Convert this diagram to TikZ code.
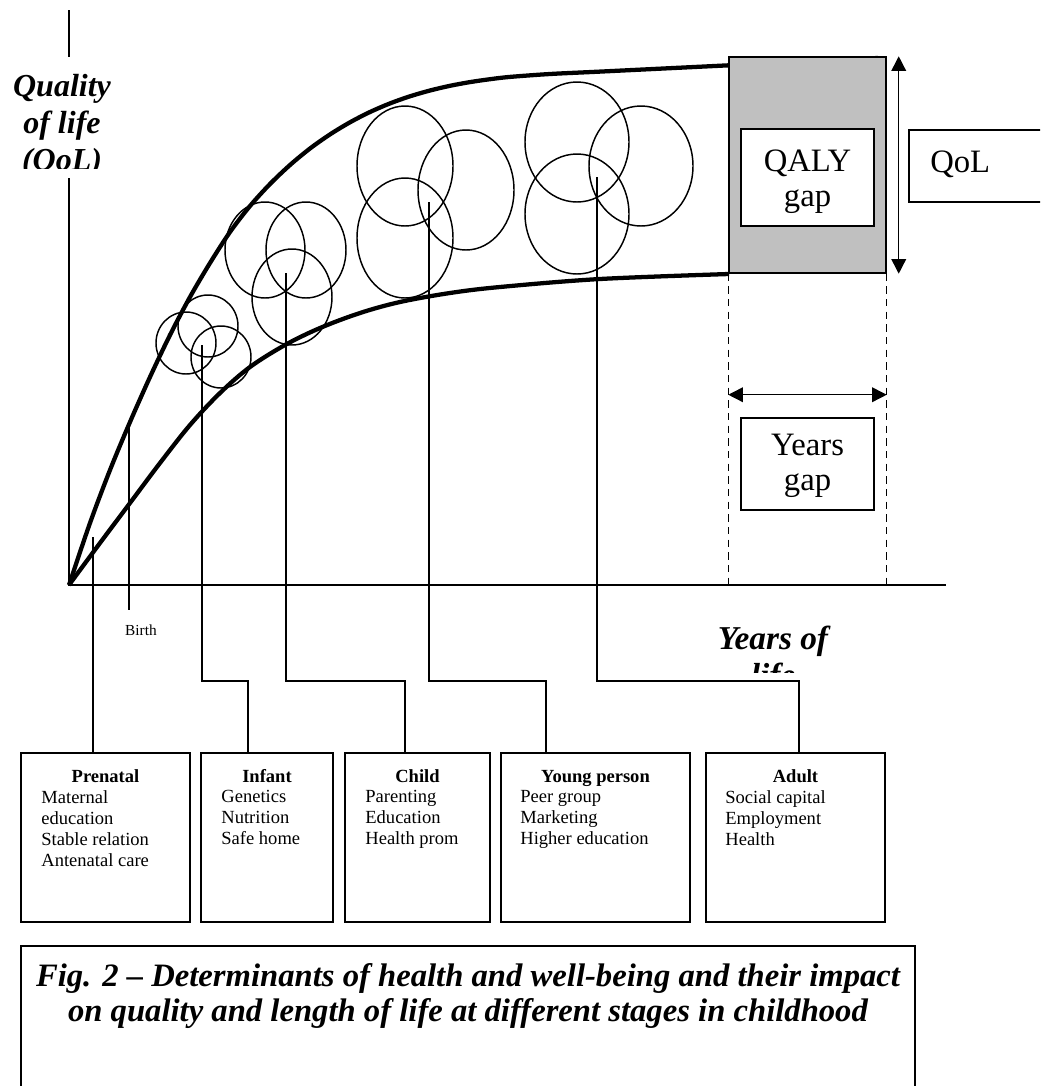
\documentclass[tikz,border=0pt]{standalone}
\usepackage{fontspec}
\setmainfont{Liberation Serif}
\usetikzlibrary{arrows.meta,calc,fit,positioning}

\definecolor{gapgray}{RGB}{192,192,192}

\tikzset{
  curve/.style={line width=3.2pt, line join=round},
  axis/.style={line width=1.2pt},
  link/.style={line width=1.2pt},
  blob/.style={line width=1.1pt},
  gapbox/.style={draw, line width=1.1pt, fill=white, inner sep=0pt},
  gaplab/.style={anchor=north, align=center, inner sep=0pt, font=\fontsize{24.5}{26.25}\selectfont},
  stagebox/.style={draw, line width=1.3pt, inner sep=0pt},
  stagetitle/.style={anchor=base, inner sep=0pt, font=\fontsize{13.9}{15.75}\selectfont\bfseries},
  stageitems/.style={anchor=north west, align=left, inner sep=0pt, font=\fontsize{13.9}{15.75}\selectfont},
  biglab/.style={font=\fontsize{24}{27.75}\selectfont\bfseries\itshape, align=center, inner sep=0pt},
  dimarrow/.style={{Triangle[length=11pt,width=11pt]}-{Triangle[length=11pt,width=11pt]}, line width=1.1pt},
}

\begin{document}
\begin{tikzpicture}[x=0.75pt, y=-0.75pt]
\useasboundingbox (0,0) rectangle (1040,1086);
\clip (0,0) rectangle (1040,1086);

% axes
\coordinate (origin) at (69,585);
\coordinate (ytop) at (69,10);
\coordinate (xend) at (946,585);
\draw[axis] (ytop) -- (origin) -- (xend);

% y label, cut off at the bottom
\fill[white] (14,57) rectangle (114,178);
\begin{scope}
  \clip (14,57) rectangle (114,168);
  \node[biglab, anchor=north] (ylab) at (62,74) {Quality\\of life\\(QoL)};
\end{scope}

% x label, cut off at the bottom
\begin{scope}
  \clip (690,615) rectangle (860,672);
  \node[biglab, anchor=north, font=\fontsize{25}{27.75}\selectfont\bfseries\itshape] (xlab) at (773,626) {Years of\\life};
\end{scope}

% upper and lower curves
\draw[curve] plot[smooth, tension=0.5] coordinates {(69,585) (90,523) (110,470) (130,422) (150,377) (170,335) (190,297) (210,263) (230,232) (250,206) (270,184) (290,165) (310,148.5) (330,134.4) (350,122.3) (370,112) (390,103.4) (410,96.3) (430,90.5) (450,85.8) (470,82.1) (490,79.2) (510,76.9) (550,74) (600,71.6) (729,65.3) (878,58)};
\draw[curve] plot[smooth, tension=0.55] coordinates {(69,585) (100,543) (130,503) (160,463) (190,425) (220,393) (250,367) (285,345) (320,328) (360,313) (400,302) (450,293) (500,287) (600,279) (729,274)};

% overlapping circles of determinants
\foreach \cx/\cy/\rx/\ry in {186/343/30/31, 208/326/30/31, 221/357/30/31,
    265/250/40/48, 306/250/40/48, 292/297/40/48,
    405/166/48/60, 466/190/48/60, 405/238/48/60,
    577/142/52/60, 641/166/52/60, 577/214/52/60}
  \draw[blob] (\cx,\cy) ellipse [x radius=\rx, y radius=\ry];

% QALY gap
\node[draw, line width=1.1pt, fill=gapgray, inner sep=0pt, fit={(729,57) (886,273)}] (gap) {};
\node[gapbox, fit={(741,129) (874,226)}] (qaly) {};
\node[gaplab] (qalytxt) at ($(qaly.north)+(0,21)$) {QALY\\gap};
\draw[dimarrow] ($(gap.north east)+(12,0)$) -- ($(gap.south east)+(12,0)$);
\node[gapbox, fit={(909,130) (1060,202)}] (qolbox) {};
\node[anchor=base west, inner sep=0pt, font=\fontsize{24.5}{26.25}\selectfont] (qol) at (930,172) {QoL};

% years gap
\draw[line width=1.1pt, dash pattern=on 5.5pt off 4pt] (gap.south west) -- (gap.south west |- origin);
\draw[line width=1.1pt, dash pattern=on 5.5pt off 4pt] (gap.south east) -- (gap.south east |- origin);
\coordinate (yrsL) at ($(gap.south west)+(0,121)$);
\coordinate (yrsR) at ($(gap.south east)+(0,121)$);
\draw[dimarrow] (yrsL) -- (yrsR);
\node[gapbox, fit={(741,418) (874,510)}] (years) {};
\node[gaplab] (yearstxt) at ($(years.north)+(0,17)$) {Years\\gap};

% birth
\coordinate (birthpt) at (129,424);
\node[anchor=base, inner sep=0pt, font=\fontsize{11.5}{13}\selectfont] (birth) at (141,635) {Birth};
\draw[link] (birthpt) -- (129,610);

% stage boxes
\node[stagebox, fit={(21,753) (190,922)}] (prenatal) {};
\node[stagebox, fit={(201,753) (333,922)}] (infant) {};
\node[stagebox, fit={(345,753) (490,922)}] (child) {};
\node[stagebox, fit={(501,753) (690,922)}] (young) {};
\node[stagebox, fit={(706,753) (885,922)}] (adult) {};

\node[stagetitle] at (prenatal.center |- 0,782) {Prenatal};
\node[stageitems] at ($(prenatal.north west)+(21,38)$) {Maternal\\education\\Stable relation\\Antenatal care};
\node[stagetitle] at (infant.center |- 0,782) {Infant};
\node[stageitems] at ($(infant.north west)+(21,38)$) {Genetics\\Nutrition\\Safe home};
\node[stagetitle] at (child.center |- 0,782) {Child};
\node[stageitems] at ($(child.north west)+(21,38)$) {Parenting\\Education\\Health prom};
\node[stagetitle] at (young.center |- 0,782) {Young person};
\node[stageitems] at ($(young.north west)+(20,38)$) {Peer group\\Marketing\\Higher education};
\node[stagetitle] at (adult.center |- 0,782) {Adult};
\node[stageitems] at ($(adult.north west)+(20,38)$) {Social capital\\Employment\\Health};

% connectors from the curves to the stages
\coordinate (prenatalpt) at (93,537);
\coordinate (infantpt) at (202,345);
\coordinate (childpt) at (286,273);
\coordinate (youngpt) at (429,202);
\coordinate (adultpt) at (597,177);
\draw[link] (prenatalpt) -- (prenatalpt |- prenatal.north);
\draw[link] (infantpt) |- ($(infant.north west)+(48,-71)$) -- ($(infant.north west)+(48,0)$);
\draw[link] (childpt) |- ($(child.north west)+(61,-71)$) -- ($(child.north west)+(61,0)$);
\draw[link] (youngpt) |- ($(young.north west)+(46,-71)$) -- ($(young.north west)+(46,0)$);
\draw[link] (adultpt) |- ($(adult.north west)+(94,-71)$) -- ($(adult.north west)+(94,0)$);

% caption
\node[stagebox, fit={(21,946) (915,1110)}] (capbox) {};
\node[anchor=north, align=center, inner sep=0pt, font=\fontsize{24.5}{26.25}\selectfont\bfseries\itshape] (caption) at (468,963) {Fig. 2 -- Determinants of health and well-being and their impact\\on quality and length of life at different stages in childhood};
\end{tikzpicture}
\end{document}
